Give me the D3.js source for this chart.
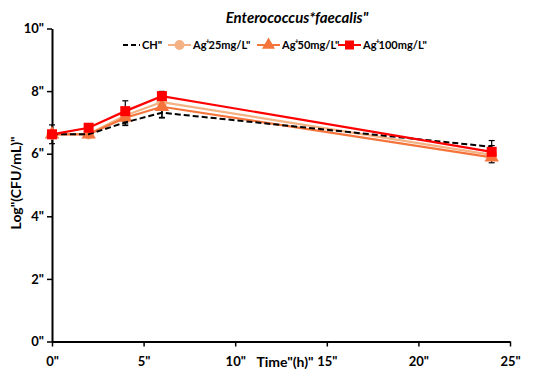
<!DOCTYPE html>
<html><head><meta charset="utf-8">
<script src="https://cdn.jsdelivr.net/npm/d3@7"></script>
<style>body{margin:0;background:#fff}text{font-family:Lato,"Open Sans",sans-serif}</style>
</head><body><svg id="c" width="544" height="376"></svg>
<script>
const times = [0, 2, 4, 6, 24];
const seriesNames = ["CH\"", "Ag+25mg/L\"", "Ag+50mg/L\"", "Ag+100mg/L\""];
const valsCH = [6.62, 6.62, 7.0, 7.31, 6.22];
const vals25 = [6.62, 6.63, 7.22, 7.65, 5.96];
const vals50 = [6.62, 6.62, 7.15, 7.50, 5.88];
const vals100 = [6.62, 6.83, 7.36, 7.84, 6.06];
const errCH = [0.3, 0.05, 0.1, 0.15, 0.2];
const err100 = [0.1, 0.08, 0.33, 0.15, 0.2];
const err50 = [0.1, 0.08, 0.2, 0.36, 0.17];
const xTicks = [0, 5, 10, 15, 20, 25];
const yTicks = [0, 2, 4, 6, 8, 10];
const colors = ["#000000", "#F4B183", "#F4743B", "#FF0000"];
const markers = ["none", "circle", "triangle", "square"];

const svg = d3.select("#c");
const x = d3.scaleLinear().domain([0, 25]).range([52, 510]);
const y = d3.scaleLinear().domain([0, 10]).range([341.5, 28.5]);

const xa = svg.append("g").attr("transform", "translate(0,341.5)")
  .call(d3.axisBottom(x).tickValues(xTicks).tickFormat(d => d + "\"").tickSize(5).tickSizeOuter(0));
const ya = svg.append("g").attr("transform", "translate(52,0)")
  .call(d3.axisLeft(y).tickValues(yTicks).tickFormat(d => d + "\"").tickSize(5).tickSizeOuter(0));
[xa, ya].forEach(a => {
  a.select(".domain").attr("stroke", "#000").attr("stroke-width", 2);
  a.selectAll(".tick line").attr("stroke", "#000").attr("stroke-width", 1.5);
  a.selectAll(".tick text").attr("fill", "#000").style("font-size", "13px").style("font-weight", "bold").style("font-family", "Lato");
});
xa.selectAll(".tick text").attr("dy", "1.25em");
ya.selectAll(".tick text").attr("x", -8);

const allVals = [valsCH, vals25, vals50, vals100];
const errs = [errCH, null, err50, err100];
const line = d3.line().x((d, i) => x(times[i])).y(d => y(d));

// error bars
errs.forEach((e, s) => {
  if (!e) return;
  const g = svg.append("g");
  allVals[s].forEach((v, i) => {
    const cx = x(times[i]);
    g.append("line").attr("x1", cx).attr("x2", cx).attr("y1", y(v - e[i])).attr("y2", y(v + e[i])).attr("stroke", "#000").attr("stroke-width", 1.2);
    [v - e[i], v + e[i]].forEach(t => g.append("line").attr("x1", cx - 3).attr("x2", cx + 3).attr("y1", y(t)).attr("y2", y(t)).attr("stroke", "#000").attr("stroke-width", 1.2));
  });
});

function drawMarker(g, type, cx, cy, color, size) {
  if (type === "circle") g.append("circle").attr("cx", cx).attr("cy", cy).attr("r", size * 0.55).attr("fill", color);
  else if (type === "triangle") g.append("path").attr("d", d3.symbol().type(d3.symbolTriangle).size(size * size * 0.9)()).attr("transform", `translate(${cx},${cy})`).attr("fill", color);
  else if (type === "square") g.append("rect").attr("x", cx - size / 2).attr("y", cy - size / 2).attr("width", size).attr("height", size).attr("fill", color);
}

[1, 2, 0, 3].forEach(s => {
  const g = svg.append("g");
  g.append("path").datum(allVals[s]).attr("d", line).attr("fill", "none").attr("stroke", colors[s])
    .attr("stroke-width", s === 0 ? 2 : 2.2).attr("stroke-dasharray", s === 0 ? "6,3" : null);
  allVals[s].forEach((v, i) => drawMarker(g, markers[s], x(times[i]), y(v), colors[s], 10));
});

// title
svg.append("text").attr("x", 297).attr("y", 23).attr("text-anchor", "middle")
  .style("font-size", "15px").style("font-weight", "bold").style("font-style", "italic").text("Enterococcus*faecalis\"");

// legend
const legX = [123, 168, 257, 338];
seriesNames.forEach((n, s) => {
  const g = svg.append("g");
  const lx = legX[s], ly = 45;
  const w = s === 0 ? 17 : 23;
  g.append("line").attr("x1", lx).attr("x2", lx + w).attr("y1", ly).attr("y2", ly).attr("stroke", colors[s]).attr("stroke-width", 2).attr("stroke-dasharray", s === 0 ? "5,3" : null);
  if (s > 0) drawMarker(g, markers[s], lx + w / 2, ly, colors[s], 9);
  const t = g.append("text").attr("x", lx + w + 2).attr("y", ly + 4).style("font-size", "11px").style("font-weight", "bold");
  const parts = n.split("+");
  t.append("tspan").text(parts[0]);
  if (parts.length > 1) {
    t.append("tspan").attr("dy", -5).style("font-size", "8px").attr("dx", -1).text("+");
    t.append("tspan").attr("dy", 5).attr("dx", -1.5).text(parts[1]);
  }
});

// axis titles
svg.append("text").attr("x", 285).attr("y", 367).attr("text-anchor", "middle").style("font-size", "14px").style("font-weight", "bold").text("Time\"(h)\"");
svg.append("text").attr("transform", "translate(21,183) rotate(-90)").attr("text-anchor", "middle").style("font-size", "14px").style("font-weight", "bold").text("Log\"(CFU/mL)\"");
</script></body></html>
